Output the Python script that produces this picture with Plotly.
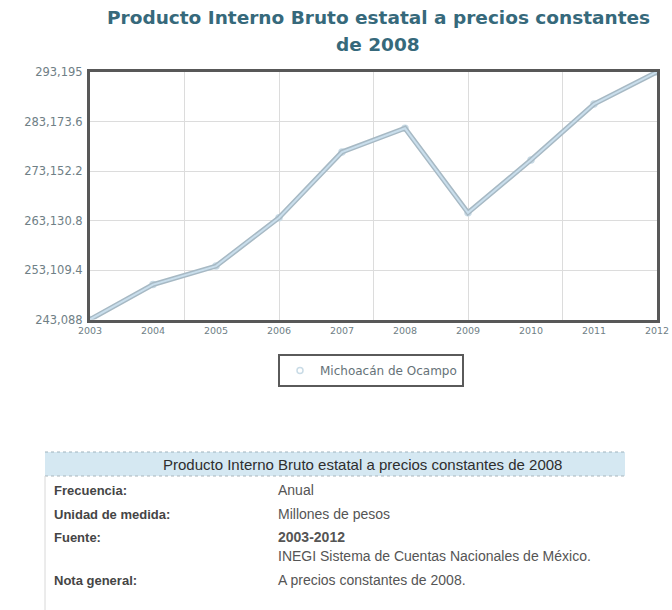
import plotly.graph_objects as go

# ---- data ----
years = [2003, 2004, 2005, 2006, 2007, 2008, 2009, 2010, 2011, 2012]
pib = [243088, 250150, 253900, 263700, 277000, 281800, 264700, 275400, 286700, 293195]
series_name = "Michoacán de Ocampo"
y_ticks = [243088, 253109.4, 263130.8, 273152.2, 283173.6, 293195]
y_tick_text = ["243,088", "253,109.4", "263,130.8", "273,152.2", "283,173.6", "293,195"]
x_tick_text = [str(y) for y in years]
title_lines = ["Producto Interno Bruto estatal a precios constantes", "de 2008"]

table_title = "Producto Interno Bruto estatal a precios constantes de 2008"
table_labels = ["Frecuencia:", "Unidad de medida:", "Fuente:", "", "Nota general:"]
table_values = ["Anual", "Millones de pesos", "<b>2003-2012</b>",
                "INEGI Sistema de Cuentas Nacionales de México.", "A precios constantes de 2008."]

W, H = 672, 610


def px(x):
    return x / W


def py(y):
    return 1 - y / H


fig = go.Figure()

fig.add_trace(go.Scatter(
    x=years, y=pib, mode="lines", xaxis="x2", yaxis="y",
    line=dict(color="#a7b9c4", width=5), showlegend=False, hoverinfo="skip"))
fig.add_trace(go.Scatter(
    x=years, y=pib, mode="lines", xaxis="x2", yaxis="y",
    line=dict(color="#c9deec", width=2), showlegend=False, hoverinfo="skip"))
fig.add_trace(go.Scatter(
    x=years, y=pib, mode="markers", name=series_name, xaxis="x", yaxis="y",
    marker=dict(symbol="circle-open", size=6, color="#c9dbe6", line=dict(width=1.5)),
    showlegend=True))

tick_font = dict(family="DejaVu Sans", size=11.5, color="#6f8086")

fig.update_layout(
    width=W, height=H,
    margin=dict(l=0, r=0, t=0, b=0),
    paper_bgcolor="white", plot_bgcolor="white",
    xaxis=dict(domain=[px(90), px(657)], range=[2003, 2012],
               tickvals=years, ticktext=x_tick_text, showgrid=False, zeroline=False,
               showline=True, mirror=True, linecolor="#585858", linewidth=3,
               ticks="", tickfont=dict(family="DejaVu Sans", size=9.5, color="#6f8086"),
               automargin=False, anchor="y"),
    xaxis2=dict(domain=[px(90), px(657)], range=[2003, 2012], overlaying="x",
                tick0=2003, dtick=1.5, showgrid=True, gridcolor="#dcdcdc", gridwidth=1,
                showticklabels=False, zeroline=False, showline=False, ticks="",
                automargin=False, anchor="y"),
    yaxis=dict(domain=[py(319.5), py(72)], range=[243088, 293195],
               tickvals=y_ticks, ticktext=y_tick_text, showgrid=True,
               gridcolor="#dcdcdc", zeroline=False, showline=True, mirror=True,
               linecolor="#585858", linewidth=3, ticks="", tickfont=tick_font,
               automargin=False, ticklabelstandoff=2),
    legend=dict(x=px(371), xanchor="center", y=py(354), yanchor="top",
                bordercolor="#5a5a5a", borderwidth=2, bgcolor="white",
                font=dict(family="DejaVu Sans", size=12, color="#667278")),
    showlegend=True,
)

shapes = []
annotations = []

# title (two lines)
for line_text, yy in zip(title_lines, [18, 45]):
    annotations.append(dict(text="<b>" + line_text + "</b>", xref="paper", yref="paper",
                            x=px(378), y=py(yy), xanchor="center", yanchor="middle",
                            showarrow=False,
                            font=dict(family="DejaVu Sans", size=18.5, color="#36697b")))

# table header bar
shapes.append(dict(type="rect", xref="paper", yref="paper",
                   x0=px(45), x1=px(625), y0=py(476), y1=py(452),
                   fillcolor="#d5e8f2", line=dict(width=0)))
shapes.append(dict(type="line", xref="paper", yref="paper",
                   x0=px(45), x1=px(625), y0=py(452), y1=py(452),
                   line=dict(color="#9fb3bd", width=1, dash="dot")))
shapes.append(dict(type="line", xref="paper", yref="paper",
                   x0=px(45), x1=px(625), y0=py(476), y1=py(476),
                   line=dict(color="#a9b6bc", width=1, dash="dot")))
shapes.append(dict(type="line", xref="paper", yref="paper",
                   x0=px(45), x1=px(45), y0=py(476), y1=py(610),
                   line=dict(color="#d8d8d8", width=1)))

annotations.append(dict(text=table_title, xref="paper", yref="paper",
                        x=px(362), y=py(464), xanchor="center", yanchor="middle",
                        showarrow=False,
                        font=dict(family="Liberation Sans", size=15, color="#2e2e2e")))

row_y = [490, 514, 537, 556, 580]
for lab, val, yy in zip(table_labels, table_values, row_y):
    if lab:
        annotations.append(dict(text="<b>" + lab + "</b>", xref="paper", yref="paper",
                                x=px(52), y=py(yy), xanchor="left", yanchor="middle",
                                showarrow=False,
                                font=dict(family="Liberation Sans", size=13, color="#454545")))
    annotations.append(dict(text=val, xref="paper", yref="paper",
                            x=px(276), y=py(yy), xanchor="left", yanchor="middle",
                            showarrow=False,
                            font=dict(family="Liberation Sans", size=14, color="#555555")))

fig.update_layout(shapes=shapes, annotations=annotations)

fig.write_html("out.html")
